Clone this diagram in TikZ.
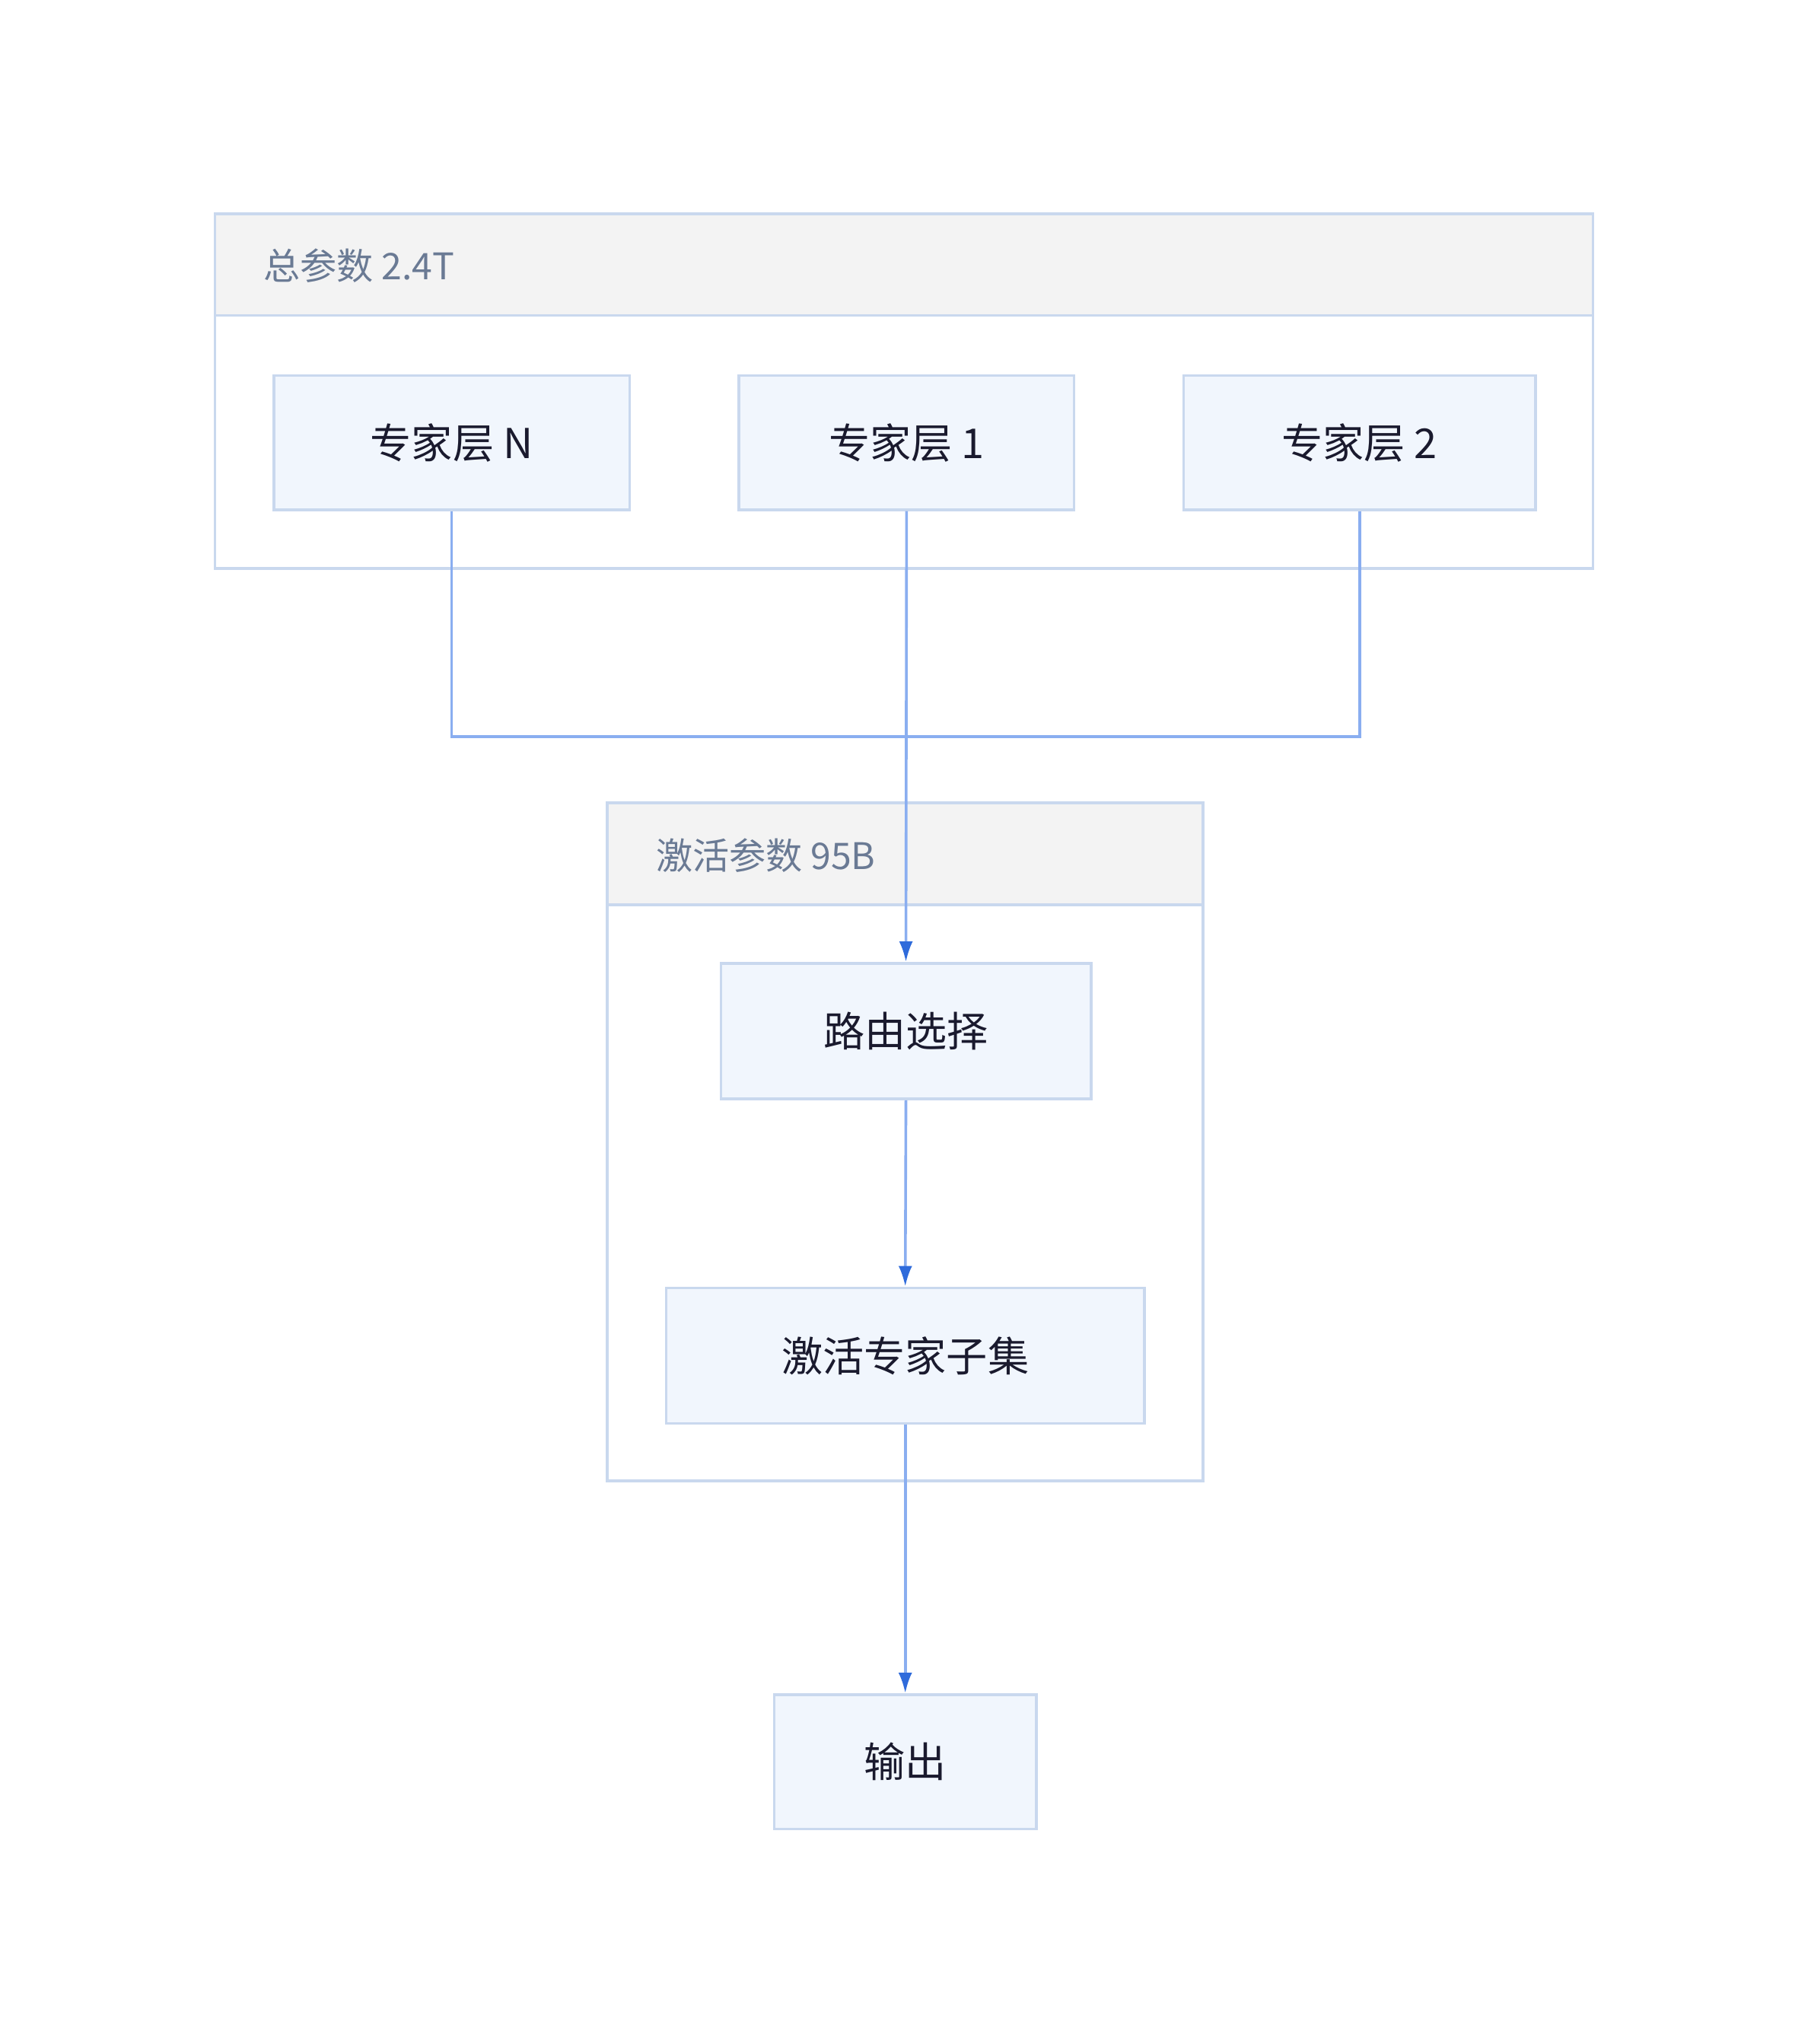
\documentclass[tikz,border=0pt]{standalone}
\usepackage{fontspec}
\setmainfont{Noto Sans CJK SC}
\usetikzlibrary{arrows.meta}
\definecolor{bd}{HTML}{C9D8EE}
\definecolor{nf}{HTML}{F1F6FD}
\definecolor{hf}{HTML}{F3F3F3}
\definecolor{ln}{HTML}{8AAEF0}
\definecolor{tip}{HTML}{2F6BDB}
\definecolor{tt}{HTML}{6A7A94}
\definecolor{nt}{HTML}{1A1A2E}
\begin{document}
\begin{tikzpicture}[x=0.02cm,y=-0.02cm,
  box/.style={draw=bd,line width=1.2pt,fill=nf,inner sep=0pt,font=\fontsize{18}{20}\selectfont,text=nt},
  grp/.style={draw=bd,line width=1.2pt},
  ttl/.style={anchor=west,font=\fontsize{16}{18}\selectfont,text=tt},
  con/.style={draw=ln,line width=1.2pt},
  arr/.style={con,-{Latex[length=9pt,width=6pt,color=tip]}}]
\useasboundingbox (0,0) rectangle (1389,1568);
% group 1
\fill[hf] (165,164) rectangle (1222,242);
\draw[grp] (165,164) rectangle (1222,436);
\draw[grp] (165,242) -- (1222,242);
\node[ttl] (t1) at (196,204) {总参数 2.4T};
% group 2
\fill[hf] (466,616) rectangle (923,694);
\draw[grp] (466,616) rectangle (923,1136);
\draw[grp] (466,694) -- (923,694);
\node[ttl] (t2) at (497,656) {激活参数 95B};
% nodes
\node[box,minimum width=273*0.02cm,minimum height=103*0.02cm] (eN) at (346.5,339.5) {专家层 N};
\node[box,minimum width=257*0.02cm,minimum height=103*0.02cm] (e1) at (695.5,339.5) {专家层 1};
\node[box,minimum width=270*0.02cm,minimum height=103*0.02cm] (e2) at (1043,339.5) {专家层 2};
\node[box,minimum width=284*0.02cm,minimum height=104*0.02cm] (r) at (695,791) {路由选择};
\node[box,minimum width=367*0.02cm,minimum height=104*0.02cm] (s) at (694.5,1040) {激活专家子集};
\node[box,minimum width=201*0.02cm,minimum height=103*0.02cm] (o) at (694.5,1351.5) {输出};
\coordinate (j) at (695,565);
\draw[con] (eN.south) |- (j);
\draw[con] (e2.south) |- (j);
\draw[arr] (e1.south) -- (r.north);
\draw[arr] (r.south) -- (s.north);
\draw[arr] (s.south) -- (o.north);
\end{tikzpicture}
\end{document}
